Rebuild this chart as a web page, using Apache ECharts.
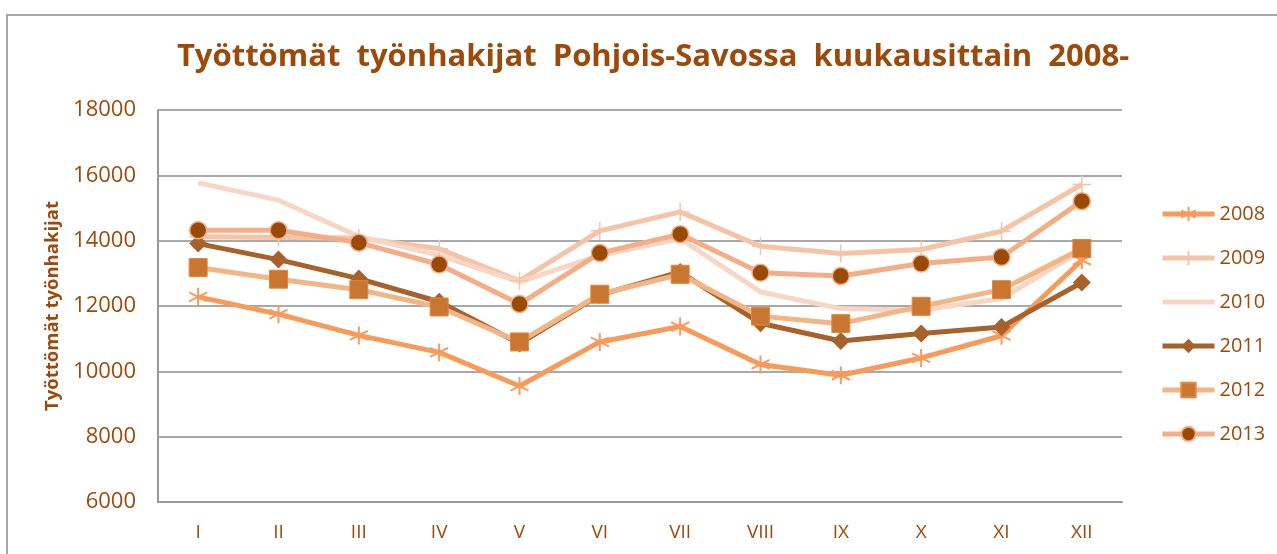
<!DOCTYPE html>
<html>
<head>
<meta charset="utf-8">
<script src="https://cdn.jsdelivr.net/npm/echarts@6/dist/echarts.min.js"></script>
<style>
html,body{margin:0;padding:0;background:#fff;}
#chart{width:1277px;height:554px;}
</style>
</head>
<body>
<div id="chart"></div>
<script>
const months = ['I','II','III','IV','V','VI','VII','VIII','IX','X','XI','XII'];
const years = ['2008','2009','2010','2011','2012','2013'];
const y2008 = [12280, 11750, 11100, 10580, 9550, 10900, 11370, 10210, 9880, 10410, 11090, 13400];
const y2009 = [14120, 14100, 14080, 13750, 12770, 14300, 14880, 13830, 13610, 13730, 14290, 15720];
const y2010 = [15770, 15240, 14130, 13550, 12740, 13550, 14060, 12430, 11920, 11870, 12230, 13700];
const y2011 = [13910, 13420, 12840, 12130, 10850, 12340, 13040, 11470, 10930, 11160, 11360, 12720];
const y2012 = [13180, 12820, 12500, 11970, 10900, 12360, 12970, 11690, 11460, 11990, 12500, 13760];
const y2013 = [14320, 14320, 13940, 13270, 12060, 13620, 14200, 13020, 12920, 13300, 13500, 15210];
const yTicks = {min: 6000, max: 18000, interval: 2000};

const txt = '#9C4A0B';
const chart = echarts.init(document.getElementById('chart'));
const asterisk = 'path://M5,0L5,10M0.67,2.5L9.33,7.5M0.67,7.5L9.33,2.5';
const plus = 'path://M5,0L5,10M0,5L10,5';

function ser(name, data, lineColor, symbol, size, itemStyle, showSym) {
  return {
    name: name, type: 'line', data: data,
    symbol: symbol, symbolSize: size, showSymbol: showSym !== false,
    lineStyle: {color: lineColor, width: 5},
    itemStyle: itemStyle,
    emphasis: {disabled: true},
    animation: false
  };
}

chart.setOption({
  animation: false,
  graphic: [{
    type: 'rect', shape: {x: 7, y: 15, width: 1300, height: 600},
    style: {fill: 'none', stroke: '#a6a6a6', lineWidth: 2}, silent: true
  }],
  title: {
    text: 'Työttömät  työnhakijat  Pohjois-Savossa  kuukausittain  2008-',
    left: 648, top: 37, textAlign: 'center',
    textStyle: {color: txt, fontFamily: 'Open Sans', fontWeight: 'bold', fontSize: 31}
  },
  legend: {
    orient: 'vertical', left: 1155, top: 199, itemGap: 24,
    itemWidth: 52, itemHeight: 18,
    lineStyle: {width: 5},
    textStyle: {color: txt, fontFamily: 'Open Sans', fontSize: 20, lineHeight: 18, padding: [0,0,0,0]},
    data: years
  },
  grid: {left: 158, right: 155, top: 110, bottom: 52},
  xAxis: {
    type: 'category', data: months, boundaryGap: true,
    axisLine: {show: true, lineStyle: {color: '#999', width: 2}},
    axisTick: {show: false},
    axisLabel: {color: txt, fontFamily: 'Open Sans', fontSize: 19, margin: 21}
  },
  yAxis: {
    type: 'value', min: yTicks.min, max: yTicks.max, interval: yTicks.interval,
    name: 'Työttömät työnhakijat', nameLocation: 'middle', nameGap: 94, nameRotate: 90,
    nameTextStyle: {color: txt, fontFamily: 'Open Sans', fontWeight: 'bold', fontSize: 18.5},
    axisLine: {show: true, lineStyle: {color: '#999', width: 2}},
    axisTick: {show: false},
    axisLabel: {color: txt, fontFamily: 'Open Sans', fontSize: 22, margin: 22, formatter: v => String(v)},
    splitLine: {lineStyle: {color: '#8c8c8c', width: 1.5}}
  },
  series: [
    ser('2008', y2008, '#F79A5A', asterisk, 18, {color: 'transparent', borderColor: '#F79A5A', borderWidth: 2}),
    ser('2009', y2009, '#F5C3A6', plus, 18, {color: 'transparent', borderColor: '#F5C3A6', borderWidth: 1.5}),
    ser('2010', y2010, '#F8D6C6', 'circle', 1, {color: 'transparent', borderWidth: 0}, false),
    ser('2011', y2011, '#A8612B', 'diamond', 18, {color: '#A8612B'}),
    ser('2012', y2012, '#F2B585', 'rect', 18, {color: '#C97630', borderColor: '#E8843A', borderWidth: 1}),
    ser('2013', y2013, '#F4AD87', 'circle', 17, {color: '#994A05', borderColor: '#F4AD87', borderWidth: 1.5})
  ]
});
</script>
</body>
</html>
